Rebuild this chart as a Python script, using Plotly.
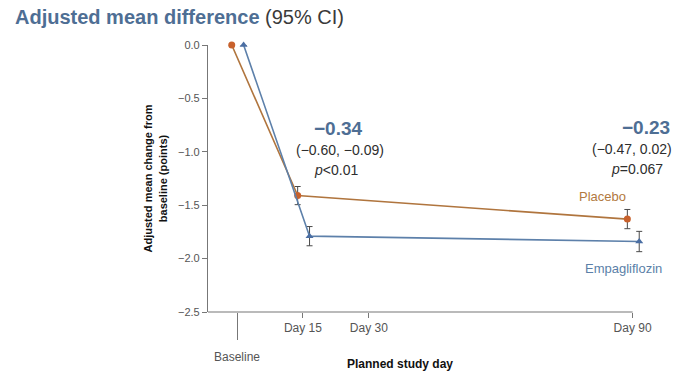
import plotly.graph_objects as go

# Planned study days and adjusted mean change from baseline (points)
days = [0, 15, 90]
placebo_mean = [0.0, -1.41, -1.63]
placebo_err = [0.0, 0.085, 0.09]
empa_mean = [0.0, -1.79, -1.84]
empa_err = [0.0, 0.09, 0.095]

day_ticks = [15, 30, 90]
day_labels = ["Day 15", "Day 30", "Day 90"]
y_ticks = [0.0, -0.5, -1.0, -1.5, -2.0, -2.5]

# Treatment differences at each follow-up visit
diff_day15 = ("\u22120.34", "(\u22120.60, \u22120.09)", "<i>p</i><0.01")
diff_day90 = ("\u22120.23", "(\u22120.47, 0.02)", "<i>p</i>=0.067")

FONT = "Liberation Sans, Arial, sans-serif"
ORANGE = "#C8612C"
ORANGE_LINE = "#B0753E"
BLUE = "#4A6EA3"
BLUE_LINE = "#5D80AA"
TITLE_BLUE = "#4E6E94"
AXIS = "#777"
OFFSET_P, OFFSET_E = -1.2, 1.5  # small horizontal dodge between arms
X_MIN, X_AXIS_END, X_MAX = -6.6, 90, 96

fig = go.Figure()

fig.add_trace(go.Scatter(
    x=[d + OFFSET_P for d in days], y=placebo_mean, mode="lines+markers",
    name="Placebo", cliponaxis=False,
    line=dict(color=ORANGE_LINE, width=1.6),
    marker=dict(symbol="circle", size=7, color=ORANGE),
    error_y=dict(type="data", array=placebo_err, color="#4a4a4a", thickness=1, width=3),
))
fig.add_trace(go.Scatter(
    x=[d + OFFSET_E for d in days], y=empa_mean, mode="lines+markers",
    name="Empagliflozin", cliponaxis=False,
    line=dict(color=BLUE_LINE, width=1.6),
    marker=dict(symbol="triangle-up", size=7, color=BLUE),
    error_y=dict(type="data", array=empa_err, color="#4a4a4a", thickness=1, width=3),
))

# invisible trace to activate the baseline axis
fig.add_trace(go.Scatter(x=[0], y=[0], xaxis="x2", mode="markers",
                         marker=dict(opacity=0), showlegend=False, hoverinfo="skip"))

annotations = []

def diff_block(x_center, y_top, texts, x_shift=(0, 0, 0)):
    sizes = [19, 14, 14]
    colors = [TITLE_BLUE, "#2e2e2e", "#2e2e2e"]
    weights = ["<b>{}</b>", "{}", "{}"]
    steps = [0, -0.205, -0.39]
    for t, s, c, w, st, xs in zip(texts, sizes, colors, weights, steps, x_shift):
        annotations.append(dict(
            x=x_center + xs, y=y_top + st, xref="x", yref="y", text=w.format(t),
            showarrow=False, xanchor="center", yanchor="middle",
            font=dict(family=FONT, size=s, color=c)))

diff_block(23.0, -0.78, diff_day15, (0, 0.4, -0.5))
diff_block(90.5, -0.77, diff_day90, (2.5, -0.7, 0.4))

annotations.append(dict(x=83.2, y=-1.42, xref="x", yref="y", text="Placebo",
                        showarrow=False, font=dict(family=FONT, size=13, color="#B27940")))
annotations.append(dict(x=88.0, y=-2.09, xref="x", yref="y", text="Empagliflozin",
                        showarrow=False, font=dict(family=FONT, size=13, color="#5B7FA8")))
annotations.append(dict(x=0.425, y=-0.195, xref="paper", yref="paper",
                        text="<b>Planned study day</b>", showarrow=False,
                        xanchor="center", yanchor="middle",
                        font=dict(family=FONT, size=12, color="#111")))

fig.update_layout(
    width=689, height=372,
    margin=dict(l=208, r=30, t=45, b=60),
    plot_bgcolor="white", paper_bgcolor="white",
    showlegend=False,
    font=dict(family=FONT, color="#555"),
    title=dict(
        text="<b>Adjusted mean difference</b> <span style='color:#3a3a3a'>(95% CI)</span>",
        x=15 / 689, xanchor="left", xref="container",
        y=1 - 17 / 372, yanchor="middle", yref="container",
        font=dict(family=FONT, size=20, color=TITLE_BLUE)),
    xaxis=dict(
        range=[X_MIN, X_MAX], tickvals=day_ticks, ticktext=day_labels,
        ticks="outside", ticklen=5, tickcolor=AXIS, tickwidth=1.2,
        showline=False, showgrid=False, zeroline=False, automargin=False,
        tickfont=dict(family=FONT, size=12, color="#555")),
    xaxis2=dict(
        overlaying="x", matches="x", side="bottom",
        tickvals=[0], ticktext=["Baseline"],
        ticks="outside", ticklen=27, tickcolor=AXIS, tickwidth=1.4,
        ticklabelstandoff=7, automargin=False,
        showline=False, showgrid=False, zeroline=False,
        tickfont=dict(family=FONT, size=12, color="#555")),
    yaxis=dict(
        range=[-2.5, 0], tickvals=y_ticks, tickformat=".1f",
        ticks="outside", ticklen=5, tickcolor=AXIS, tickwidth=1.2,
        showline=True, linecolor=AXIS, linewidth=1.2,
        showgrid=False, zeroline=False, automargin=False,
        tickfont=dict(family=FONT, size=11, color="#555"),
        title=dict(text="<b>Adjusted mean change from<br>baseline (points)</b>",
                   standoff=8, font=dict(family=FONT, size=11, color="#111"))),
    annotations=annotations,
)

# x-axis line stops at the last planned visit
fig.add_shape(type="line", xref="x", yref="paper", x0=X_MIN, x1=X_AXIS_END, y0=0, y1=0,
              line=dict(color=AXIS, width=1.2), layer="above")

fig.write_html("out.html")
